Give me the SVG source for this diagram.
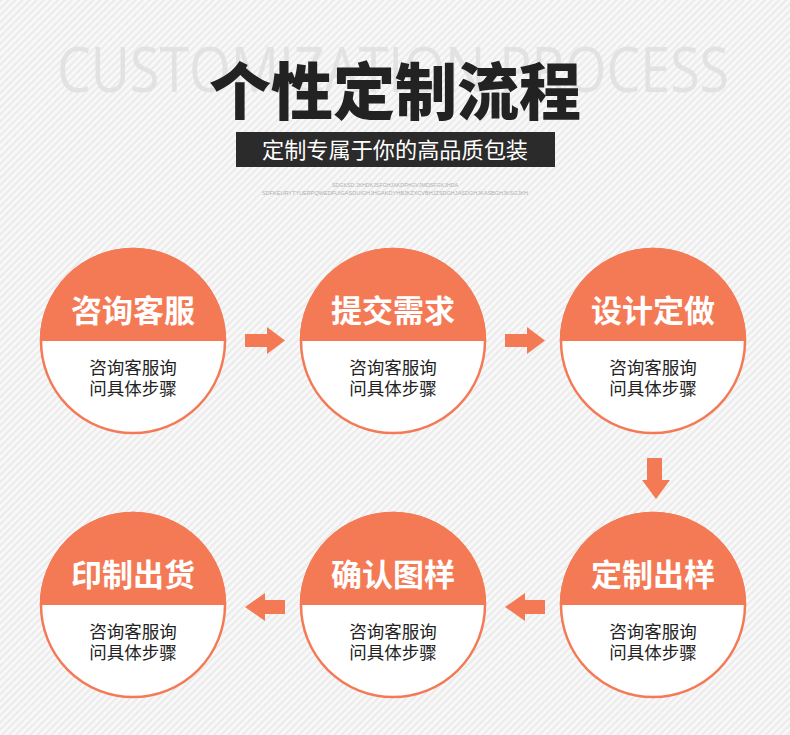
<svg xmlns="http://www.w3.org/2000/svg" width="790" height="735" viewBox="0 0 790 735">
<defs>
<pattern id="stripes" width="5" height="5" patternUnits="userSpaceOnUse" patternTransform="rotate(45)">
<rect width="5" height="5" fill="#f8f8f8"/>
<rect width="2" height="5" fill="#ebebeb"/>
</pattern>
<clipPath id="topHalf"><rect x="-100" y="-100" width="200" height="100"/></clipPath>
<g id="circ">
<circle r="92" fill="#ffffff" stroke="#f47a56" stroke-width="2.5"/>
<circle r="93.2" fill="#f47a56" clip-path="url(#topHalf)"/>
</g>
</defs>
<style>
.title{font-family:"Noto Sans CJK SC","Noto Sans",sans-serif;font-weight:700;font-size:31px;fill:#ffffff;text-anchor:middle}
.sub{font-family:"Noto Sans CJK SC","Noto Sans",sans-serif;font-weight:400;font-size:17.5px;fill:#222222;text-anchor:middle}
.arrow{fill:#f47a56}
</style>
<rect width="790" height="735" fill="url(#stripes)"/>

<g id="header">
<text x="393" y="92" font-family="'Open Sans','Liberation Sans',sans-serif" font-size="62" fill="#e2e2e2" text-anchor="middle" textLength="672" lengthAdjust="spacingAndGlyphs">CUSTOMIZATION PROCESS</text>
<text x="395" y="115" font-family="'Noto Sans CJK SC',sans-serif" font-weight="900" font-size="62" fill="#222222" text-anchor="middle">个性定制流程</text>
<rect x="236" y="132" width="319" height="35" fill="#2b2b2b"/>
<text x="395" y="158" font-family="'Noto Sans CJK SC',sans-serif" font-size="22" fill="#ffffff" text-anchor="middle" textLength="266" lengthAdjust="spacingAndGlyphs">定制专属于你的高品质包装</text>
<text x="395" y="187" font-family="'Liberation Sans',sans-serif" font-size="5" fill="#b0b0b0" text-anchor="middle" textLength="126" lengthAdjust="spacingAndGlyphs">SDGKSD.JKHDKJSFGHJAKDFHGVJMDSFGKJHDA</text>
<text x="395" y="195" font-family="'Liberation Sans',sans-serif" font-size="5" fill="#b0b0b0" text-anchor="middle" textLength="266" lengthAdjust="spacingAndGlyphs">SDFKEURYTYUERPQWEDFUIGASDUIGHJHGAKDYHBJKZXCVBHJZSDGHJASDGHJKASBGHJKSGJKH</text>
</g>

<g id="connectors">
<path class="arrow" d="M245,334 H267 V327 L285,340.5 L267,354 V347 H245 Z"/>
<path class="arrow" d="M505,334 H527 V327 L545,340.5 L527,354 V347 H505 Z"/>
<path class="arrow" d="M647,458 H662 V480 H670 L656,499 L642,480 H647 Z"/>
<path class="arrow" d="M545,600 H525 V593 L505,607 L525,621 V614 H545 Z"/>
<path class="arrow" d="M285,600 H265 V593 L245,607 L265,621 V614 H285 Z"/>
</g>

<g id="node1" transform="translate(133,341)">
<use href="#circ"/>
<text class="title" y="-19">咨询客服</text>
<text class="sub" y="33">咨询客服询</text>
<text class="sub" y="54">问具体步骤</text>
</g>
<g id="node2" transform="translate(393,341)">
<use href="#circ"/>
<text class="title" y="-19">提交需求</text>
<text class="sub" y="33">咨询客服询</text>
<text class="sub" y="54">问具体步骤</text>
</g>
<g id="node3" transform="translate(653,341)">
<use href="#circ"/>
<text class="title" y="-19">设计定做</text>
<text class="sub" y="33">咨询客服询</text>
<text class="sub" y="54">问具体步骤</text>
</g>
<g id="node4" transform="translate(653,605)">
<use href="#circ"/>
<text class="title" y="-19">定制出样</text>
<text class="sub" y="33">咨询客服询</text>
<text class="sub" y="54">问具体步骤</text>
</g>
<g id="node5" transform="translate(393,605)">
<use href="#circ"/>
<text class="title" y="-19">确认图样</text>
<text class="sub" y="33">咨询客服询</text>
<text class="sub" y="54">问具体步骤</text>
</g>
<g id="node6" transform="translate(133,605)">
<use href="#circ"/>
<text class="title" y="-19">印制出货</text>
<text class="sub" y="33">咨询客服询</text>
<text class="sub" y="54">问具体步骤</text>
</g>
</svg>
